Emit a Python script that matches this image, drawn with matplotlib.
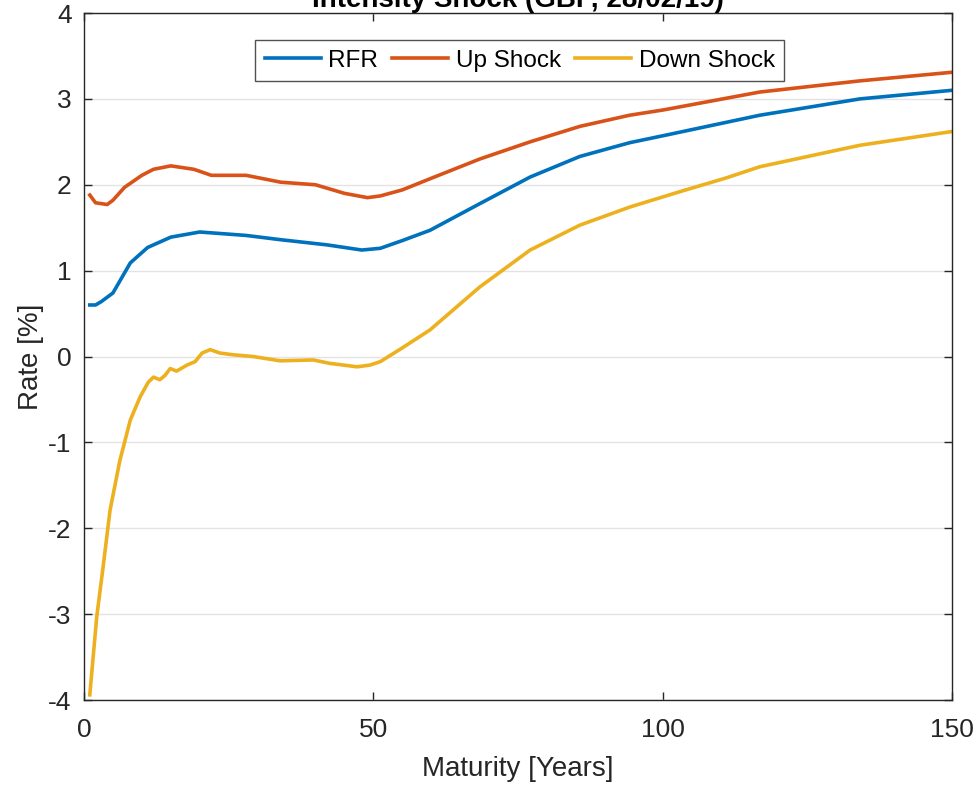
import matplotlib
matplotlib.use("Agg")
import matplotlib.pyplot as plt

plt.rcParams['font.family'] = ['Liberation Sans', 'DejaVu Sans']
plt.rcParams['axes.unicode_minus'] = False

# maturities (years) and rates (%)
t_rfr = [1, 2, 3, 5, 8, 11, 15, 20, 28, 34, 42, 48, 51.2, 55, 59.8, 68.4, 77.1, 85.7, 94.3, 100,
         116.8, 134.1, 150]
rfr = [0.60, 0.60, 0.64, 0.74, 1.09, 1.27, 1.39, 1.45, 1.41, 1.36, 1.30, 1.24, 1.26, 1.35, 1.47,
       1.78, 2.09, 2.33, 2.49, 2.57, 2.81, 3.00, 3.10]

t_up = [1, 2, 4, 5, 7, 10, 12, 15, 19, 22, 28, 34, 40, 45, 49, 51.2, 55, 59.8, 68.4, 77.1, 85.7,
        94.3, 100, 116.8, 134.1, 150]
up = [1.88, 1.79, 1.77, 1.82, 1.97, 2.11, 2.18, 2.22, 2.18, 2.11, 2.11, 2.03, 2.00, 1.90, 1.85,
      1.87, 1.94, 2.07, 2.30, 2.50, 2.68, 2.81, 2.87, 3.08, 3.21, 3.31]

t_down = [1, 2.2, 3.3, 4.5, 6.2, 8, 9.7, 11.1, 12, 13.1, 14, 14.9, 16, 17.8, 19.2, 20.4, 21.8, 23.5,
          25.8, 29.2, 33.9, 39.6, 42.5, 47.2, 49.4, 51.2, 55, 59.8, 68.4, 77.1, 85.7, 94.3, 103,
          111, 116.8, 134.1, 150]
down = [-3.94, -3.03, -2.45, -1.79, -1.21, -0.74, -0.47, -0.30, -0.24, -0.27, -0.22, -0.14, -0.17,
        -0.10, -0.06, 0.04, 0.08, 0.04, 0.02, 0.00, -0.05, -0.04, -0.08, -0.12, -0.10, -0.06, 0.10,
        0.31, 0.81, 1.24, 1.53, 1.74, 1.92, 2.08, 2.21, 2.46, 2.62]

fig = plt.figure(figsize=(9.78, 7.89), dpi=100)
ax = fig.add_axes([0.0859, 0.1128, 0.8875, 0.8707])

ax.plot(t_rfr, rfr, color='#0072BD', lw=2.6, label='RFR')
ax.plot(t_up, up, color='#D95319', lw=2.6, label='Up Shock')
ax.plot(t_down, down, color='#EDB120', lw=2.6, label='Down Shock')

ax.set_xlim(0, 150)
ax.set_ylim(-4, 4)
ax.set_xticks([0, 50, 100, 150])
ax.set_yticks(range(-4, 5))
ax.grid(axis='y', color='#e3e3e3', lw=1)
ax.set_axisbelow(True)
ax.tick_params(direction='in', length=6, width=1, labelsize=19, colors='#262626',
               top=True, right=True, labelcolor='#262626')
ax.tick_params(axis='x', pad=13)
ax.tick_params(axis='y', pad=9)
for s in ax.spines.values():
    s.set_color('#262626')
    s.set_linewidth(1)

ax.set_xlabel('Maturity [Years]', fontsize=20, color='#262626', labelpad=10)
ax.set_ylabel('Rate [%]', fontsize=20, color='#262626', labelpad=3)
# title sits mostly above the figure edge, as in the original export
ax.set_title('Intensity Shock (GBP, 28/02/19)', fontsize=20, fontweight='bold', pad=4.5)

leg = ax.legend(loc='upper center', bbox_to_anchor=(0.502, 0.961), ncol=3, fontsize=17.5,
                frameon=True, fancybox=False, handlelength=2.3, handletextpad=0.3,
                columnspacing=0.6, borderpad=0.4, borderaxespad=0)
leg.get_frame().set_edgecolor('#262626')
leg.get_frame().set_linewidth(1)

fig.savefig('out.png', dpi=100)
